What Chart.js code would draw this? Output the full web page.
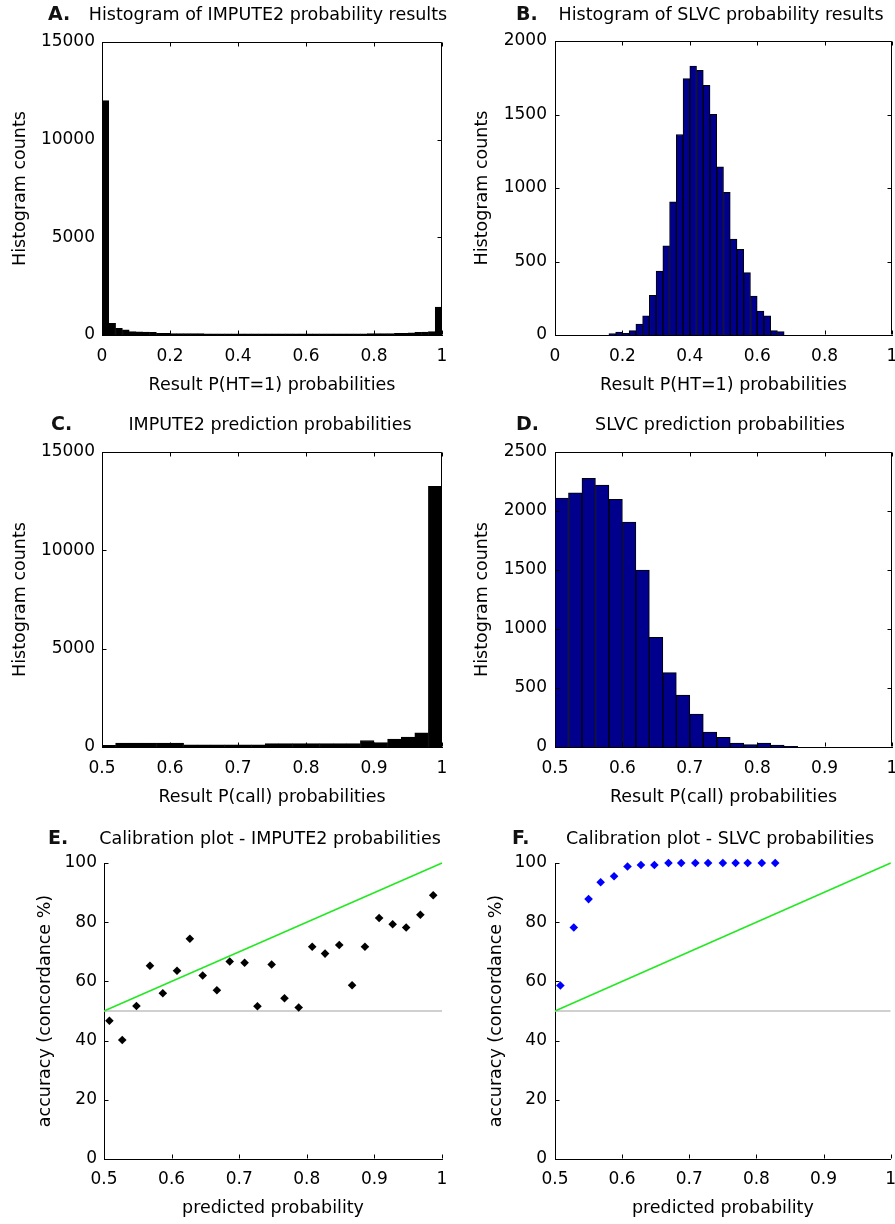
<!DOCTYPE html>
<html>
<head>
<meta charset="utf-8">
<script src="https://cdn.jsdelivr.net/npm/chart.js@4.4.1/dist/chart.umd.min.js"></script>
<style>
  body { margin: 0; background: #fff; width: 895px; height: 1224px; position: relative; overflow: hidden; }
  canvas { position: absolute; }
</style>
</head>
<body>
<canvas id="chartA" width="447" height="405" style="left:0;top:0"></canvas>
<canvas id="chartB" width="448" height="405" style="left:447px;top:0"></canvas>
<canvas id="chartC" width="447" height="412" style="left:0;top:405px"></canvas>
<canvas id="chartD" width="448" height="412" style="left:447px;top:405px"></canvas>
<canvas id="chartE" width="447" height="407" style="left:0;top:817px"></canvas>
<canvas id="chartF" width="448" height="407" style="left:447px;top:817px"></canvas>
<script>
// bin centres (width 0.02)
const binsFull = [0.01, 0.03, 0.05, 0.07, 0.09, 0.11, 0.13, 0.15, 0.17, 0.19,
  0.21, 0.23, 0.25, 0.27, 0.29, 0.31, 0.33, 0.35, 0.37, 0.39,
  0.41, 0.43, 0.45, 0.47, 0.49, 0.51, 0.53, 0.55, 0.57, 0.59,
  0.61, 0.63, 0.65, 0.67, 0.69, 0.71, 0.73, 0.75, 0.77, 0.79,
  0.81, 0.83, 0.85, 0.87, 0.89, 0.91, 0.93, 0.95, 0.97, 0.99];
const binsSLVC = [0.17, 0.19, 0.21, 0.23, 0.25, 0.27, 0.29, 0.31, 0.33, 0.35,
  0.37, 0.39, 0.41, 0.43, 0.45, 0.47, 0.49, 0.51, 0.53, 0.55,
  0.57, 0.59, 0.61, 0.63, 0.65, 0.67];
const binsCall = [0.51, 0.53, 0.55, 0.57, 0.59, 0.61, 0.63, 0.65, 0.67, 0.69,
  0.71, 0.73, 0.75, 0.77, 0.79, 0.81, 0.83, 0.85, 0.87, 0.89,
  0.91, 0.93, 0.95, 0.97, 0.99];

// A. IMPUTE2 P(HT=1) counts
const countsA = [12000, 600, 340, 260, 175, 160, 150, 140, 85, 80,
  78, 75, 72, 70, 68, 66, 65, 64, 62, 62,
  60, 60, 58, 58, 57, 57, 56, 56, 56, 57,
  57, 58, 58, 60, 60, 62, 63, 65, 66, 68,
  70, 72, 75, 80, 90, 110, 140, 150, 170, 1430];
// B. SLVC P(HT=1) counts
const countsB = [10, 20, 12, 30, 75, 130, 270, 435, 607, 906,
  1364, 1744, 1830, 1800, 1699, 1502, 1144, 970, 652, 582,
  424, 265, 163, 131, 30, 23];
// C. IMPUTE2 P(call) counts
const countsC = [80, 200, 200, 200, 200, 200, 110, 110, 110, 110,
  110, 110, 170, 170, 170, 170, 170, 170, 170, 330,
  220, 400, 500, 720, 13250];
// D. SLVC P(call) counts
const countsD = [2110, 2153, 2277, 2220, 2099, 1907, 1500, 929, 630, 441,
  280, 127, 82, 34, 20, 34, 17, 5, 0, 0,
  0, 0, 0, 0, 0];

// E / F calibration points
const predE = [0.508, 0.527, 0.548, 0.568, 0.587, 0.608, 0.627, 0.646, 0.667, 0.686,
  0.708, 0.727, 0.748, 0.767, 0.788, 0.808, 0.827, 0.848, 0.867, 0.886,
  0.907, 0.927, 0.947, 0.968, 0.987];
const accE = [46.7, 40.2, 51.7, 65.3, 56.0, 63.6, 74.4, 62.0, 57.0, 66.7,
  66.3, 51.6, 65.7, 54.3, 51.2, 71.7, 69.4, 72.3, 58.7, 71.7,
  81.4, 79.3, 78.2, 82.5, 89.1];
const predF = [0.508, 0.528, 0.550, 0.568, 0.588, 0.608, 0.628, 0.648, 0.669, 0.688,
  0.709, 0.728, 0.750, 0.769, 0.787, 0.808, 0.828];
const accF = [58.6, 78.2, 87.8, 93.5, 95.5, 98.8, 99.3, 99.3, 100, 100,
  100, 100, 100, 100, 100, 100, 100];

// reference lines
const refX = [0.5, 1];
const chanceY = [50, 50];
const perfectY = [50, 100];

const FONT = "DejaVu Sans";
const TICK_SIZE = 17;
const LABEL_SIZE = 17.5;

// box, inward ticks, panel letter and title
const panelFrame = {
  id: "panelFrame",
  afterDraw(chart, args, opts) {
    const { ctx, chartArea: a, scales } = chart;
    const L = Math.round(a.left) + 0.5, R = Math.round(a.right) - 0.5;
    const T = Math.round(a.top) + 0.5, B = Math.round(a.bottom) - 0.5;
    const len = 4;
    ctx.save();
    ctx.strokeStyle = "#000";
    ctx.lineWidth = 1;
    ctx.beginPath();
    if (opts.box) {
      ctx.moveTo(L, T); ctx.lineTo(R, T); ctx.lineTo(R, B);
    }
    scales.x.ticks.forEach(t => {
      const px = Math.round(scales.x.getPixelForValue(t.value)) + 0.5;
      ctx.moveTo(px, B); ctx.lineTo(px, B - len);
      if (opts.box) { ctx.moveTo(px, T); ctx.lineTo(px, T + len); }
    });
    scales.y.ticks.forEach(t => {
      const py = Math.round(scales.y.getPixelForValue(t.value)) + 0.5;
      ctx.moveTo(L, py); ctx.lineTo(L + len, py);
      if (opts.box) { ctx.moveTo(R, py); ctx.lineTo(R - len, py); }
    });
    ctx.stroke();
    ctx.fillStyle = "#000";
    ctx.textBaseline = "middle";
    ctx.textAlign = "center";
    ctx.font = LABEL_SIZE + "px " + FONT;
    ctx.fillText(opts.title, opts.tx, opts.ty);
    ctx.font = "bold 19px " + FONT;
    ctx.fillStyle = "#111";
    ctx.textAlign = "left";
    ctx.fillText(opts.letter, opts.lx, opts.ty);
    ctx.restore();
  }
};

const fmt = v => String(Math.round(v * 100) / 100);

function axes(p) {
  return {
    x: {
      type: "linear", min: p.xmin, max: 1, offset: false,
      grid: { display: false, drawTicks: false },
      border: { display: true, color: "#000", width: 1 },
      ticks: { stepSize: p.xstep, color: "#000", padding: p.xtickPad, font: { family: FONT, size: TICK_SIZE }, maxRotation: 0, callback: fmt },
      title: { display: true, text: p.xtitle, color: "#000", font: { family: FONT, size: LABEL_SIZE }, padding: { top: 0, bottom: p.xtitlePad } },
      afterFit: s => { s.height = p.xH; s.paddingLeft = 0; s.paddingRight = 0; }
    },
    y: {
      min: 0, max: p.ymax,
      grid: { display: false, drawTicks: false },
      border: { display: true, color: "#000", width: 1 },
      ticks: { stepSize: p.ystep, color: "#000", padding: p.ytickPad, font: { family: FONT, size: TICK_SIZE }, callback: fmt },
      title: { display: true, text: p.ytitle, color: "#000", font: { family: FONT, size: LABEL_SIZE }, padding: { top: p.ytitlePad, bottom: 0 } },
      afterFit: s => { s.width = p.yW; s.paddingTop = 0; s.paddingBottom = 0; }
    }
  };
}

function commonOptions(p) {
  return {
    responsive: false,
    animation: false,
    layout: { padding: { left: 0, right: p.padRight, top: p.top, bottom: 0 } },
    plugins: {
      legend: { display: false },
      tooltip: { enabled: false },
      title: { display: false },
      panelFrame: { box: p.box, letter: p.letter, lx: p.lx, title: p.title, tx: p.tx, ty: p.ty }
    },
    scales: axes(p)
  };
}

function histogram(id, bins, counts, fill, p) {
  new Chart(document.getElementById(id), {
    type: "bar",
    data: {
      datasets: [{
        data: bins.map((b, i) => ({ x: b, y: counts[i] })),
        backgroundColor: fill,
        borderColor: "#000",
        borderWidth: 1,
        barPercentage: 1,
        categoryPercentage: 1
      }]
    },
    options: commonOptions(p),
    plugins: [panelFrame]
  });
}

function calibration(id, xs, ys, color, p) {
  new Chart(document.getElementById(id), {
    type: "scatter",
    data: {
      datasets: [
        {
          data: xs.map((x, i) => ({ x: x, y: ys[i] })),
          pointStyle: "rectRot", pointRadius: 4.3, backgroundColor: color,
          borderWidth: 0, showLine: false, clip: false
        },
        {
          data: refX.map((x, i) => ({ x: x, y: perfectY[i] })),
          showLine: true, borderColor: "#22e822", borderWidth: 1.5, pointRadius: 0, clip: false
        },
        {
          data: refX.map((x, i) => ({ x: x, y: chanceY[i] })),
          showLine: true, borderColor: "#c0c0c0", borderWidth: 1.5, pointRadius: 0
        }
      ]
    },
    options: commonOptions(p),
    plugins: [panelFrame]
  });
}

const histBase = { xH: 70, xtickPad: 11.5, xtitlePad: 9.5, ytickPad: 7, box: true, ytitle: "Histogram counts" };

histogram("chartA", binsFull, countsA, "#000", Object.assign({}, histBase, {
  title: "Histogram of IMPUTE2 probability results", top: 42, tx: 268, ty: 15,
  letter: "A.", lx: 48, padRight: 5, yW: 102, ytitlePad: 9.5,
  xmin: 0, xstep: 0.2, ymax: 15000, ystep: 5000, xtitle: "Result P(HT=1) probabilities"
}));

histogram("chartB", binsSLVC, countsB, "#00008c", Object.assign({}, histBase, {
  title: "Histogram of SLVC probability results", top: 41, tx: 274, ty: 15,
  letter: "B.", lx: 69, padRight: 3, yW: 108, ytitlePad: 24.5, ytickPad: 8,
  xmin: 0, xstep: 0.2, ymax: 2000, ystep: 500, xtitle: "Result P(HT=1) probabilities"
}));

histogram("chartC", binsCall, countsC, "#000", Object.assign({}, histBase, {
  title: "IMPUTE2 prediction probabilities", top: 47, tx: 270, ty: 20,
  letter: "C.", lx: 51, padRight: 5, yW: 102, ytitlePad: 9.5,
  xmin: 0.5, xstep: 0.1, ymax: 15000, ystep: 5000, xtitle: "Result P(call) probabilities"
}));

histogram("chartD", binsCall, countsD, "#00008c", Object.assign({}, histBase, {
  title: "SLVC prediction probabilities", top: 47, tx: 273, ty: 20,
  letter: "D.", lx: 69, padRight: 3, yW: 108, ytitlePad: 25, ytickPad: 8,
  xmin: 0.5, xstep: 0.1, ymax: 2500, ystep: 500, xtitle: "Result P(call) probabilities"
}));

const calBase = { xH: 65, xtickPad: 10.8, xtitlePad: 5.5, box: false, ytitle: "accuracy (concordance %)",
  top: 46, ty: 22, xmin: 0.5, xstep: 0.1, ymax: 100, ystep: 20, xtitle: "predicted probability" };

calibration("chartE", predE, accE, "#000", Object.assign({}, calBase, {
  title: "Calibration plot - IMPUTE2 probabilities", tx: 270, letter: "E.", lx: 48,
  padRight: 5, yW: 104, ytitlePad: 34.5, ytickPad: 7
}));

calibration("chartF", predF, accF, "#0000ff", Object.assign({}, calBase, {
  title: "Calibration plot - SLVC probabilities", tx: 273, letter: "F.", lx: 65,
  padRight: 3, yW: 108, ytitlePad: 38.5, ytickPad: 8
}));
</script>
</body>
</html>
